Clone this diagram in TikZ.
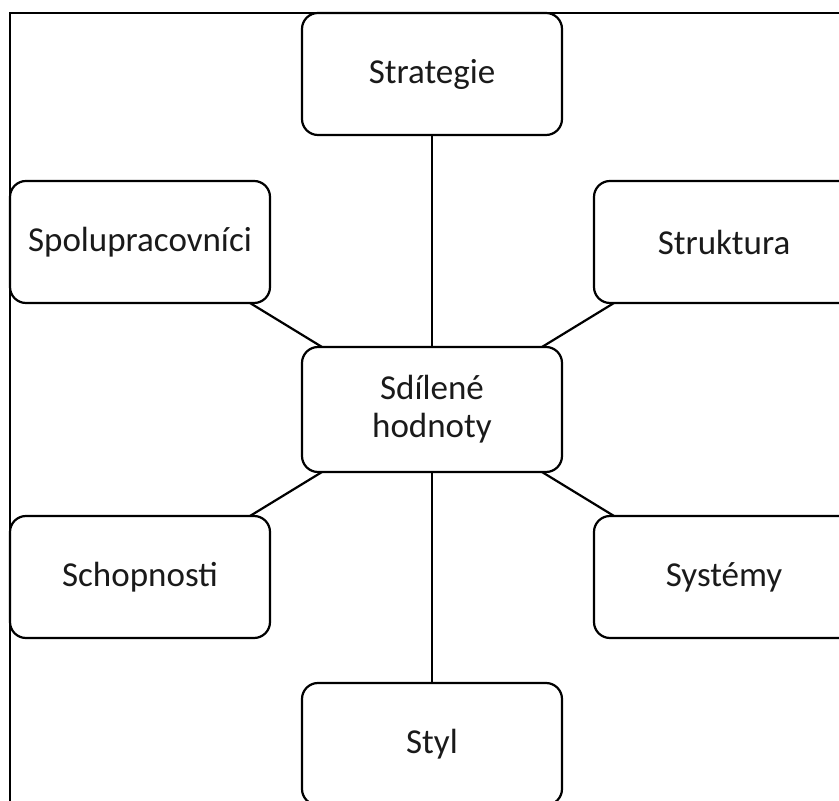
\documentclass[tikz,border=0pt]{standalone}
\usepackage{fontspec}
\setmainfont{Carlito}
\usetikzlibrary{positioning,calc}
\definecolor{TextDark}{HTML}{1A1A1A}

\begin{document}
\begin{tikzpicture}[
  node distance=22pt and 16pt,
  box/.style={draw=black, line width=1.1pt, outer sep=0pt, rounded corners=8pt, minimum width=130pt, minimum height=61pt, align=center, fill=white, text=TextDark, font=\fontsize{17.5}{19}\selectfont},
  core/.style={box, minimum height=62.5pt},
  link/.style={line width=1.1pt, draw=black}
]
  \useasboundingbox (-216pt,204.75pt) rectangle (203.5pt,-195.75pt);
  \clip (-216pt,204.75pt) rectangle (203.5pt,-195.75pt);

  \node[core] (hodnoty) {Sdílené\\hodnoty};
  \node[box, above=106pt of hodnoty] (strategie) {Strategie};
  \node[box, below=105.5pt of hodnoty] (styl) {Styl};
  \node[box, above left=of hodnoty] (spolu) {Spolupracovníci};
  \node[box, above right=of hodnoty] (struktura) {Struktura};
  \node[box, below left=of hodnoty] (schopnosti) {Schopnosti};
  \node[box, below right=of hodnoty] (systemy) {Systémy};

  % outer frame, cut off at the right and bottom
  \draw[link] ($(spolu.west |- styl.south)+(0,-20pt)$) |- ($(struktura.east |- strategie.north)+(20pt,0)$);

  \draw[link] (strategie) -- (hodnoty);
  \draw[link] (hodnoty) -- (styl);
  \draw[link] ($(spolu.south east)+(-10pt,0)$) -- ($(hodnoty.north west)+(10pt,0)$);
  \draw[link] ($(struktura.south west)+(10pt,0)$) -- ($(hodnoty.north east)+(-10pt,0)$);
  \draw[link] ($(schopnosti.north east)+(-10pt,0)$) -- ($(hodnoty.south west)+(10pt,0)$);
  \draw[link] ($(systemy.north west)+(10pt,0)$) -- ($(hodnoty.south east)+(-10pt,0)$);
\end{tikzpicture}
\end{document}
